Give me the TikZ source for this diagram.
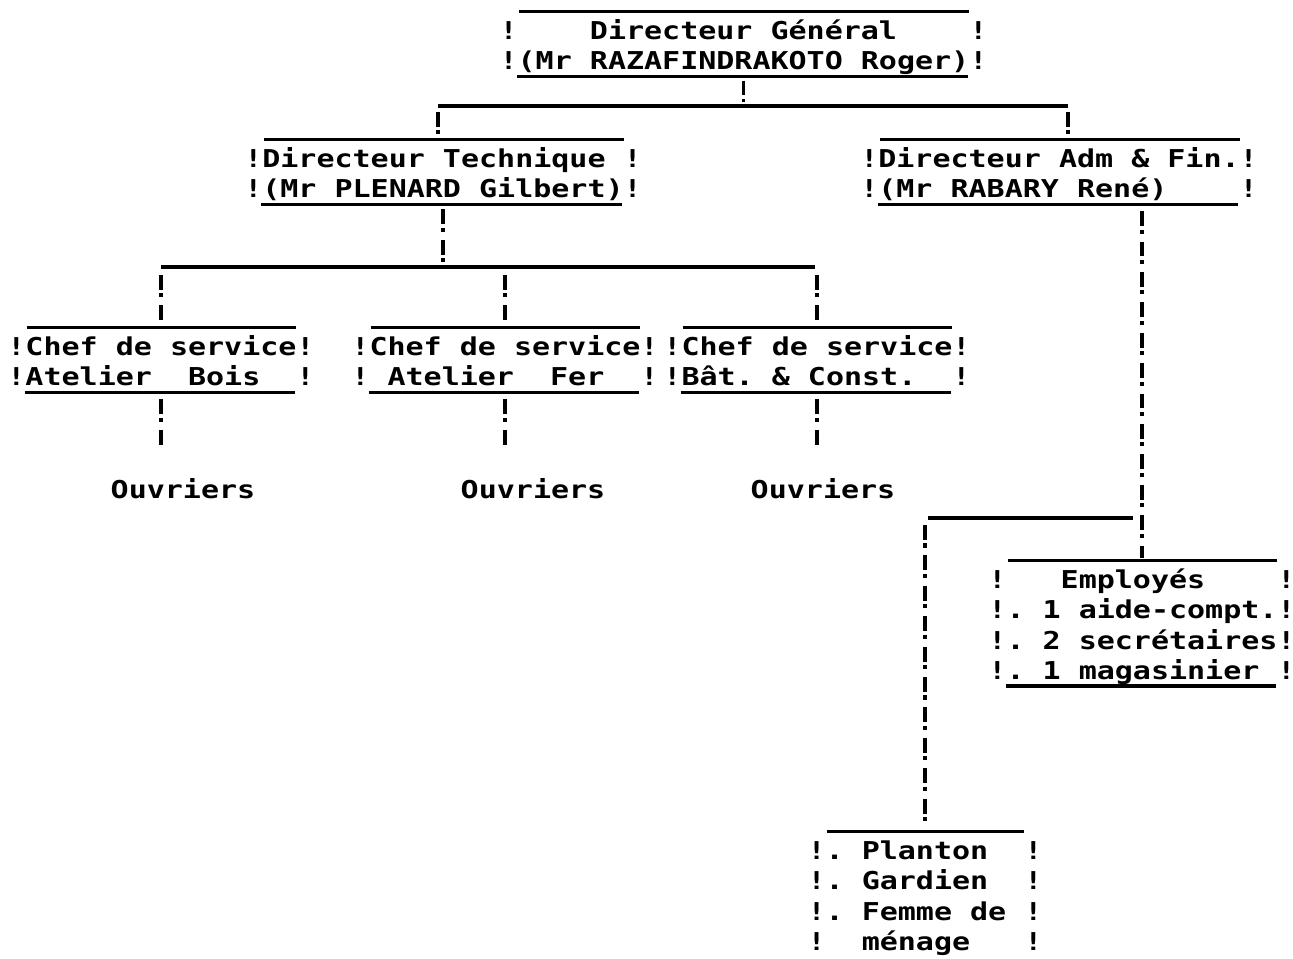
\documentclass[tikz,border=0pt]{standalone}
\usepackage{fontspec}
\usepackage{tikz}
\usetikzlibrary{positioning,calc}

\newfontfamily\typew[FakeStretch=1.22]{DejaVu Sans Mono Bold}
\newcommand{\tstr}{\rule[-3.5pt]{0pt}{15.5pt}}

\begin{document}
\begin{tikzpicture}[x=0.02cm, y=-0.02cm,
    orgbox/.style={inner sep=0pt, anchor=north, align=left,
      font=\typew\fontsize{14pt}{17.3pt}\selectfont\frenchspacing},
    worker/.style={inner sep=0pt, anchor=base,
      font=\typew\fontsize{14pt}{17.3pt}\selectfont},
    typeline/.style={black, line width=1.8pt},
    bangline/.style={black, line width=2pt,
      dash pattern=on 8.5pt off 2pt on 2.3pt off 4.5pt}
  ]
  \useasboundingbox (0,0) rectangle (1293,958);

  % Direction
  \node[orgbox] (dg) at (743.5,17.8)
    {\tstr!~~~~Directeur~Général~~~~!\\\tstr!(Mr~RAZAFINDRAKOTO~Roger)!};
  \node[orgbox] (dt) at (443,145.8)
    {\tstr!Directeur~Technique~!\\\tstr!(Mr~PLENARD~Gilbert)!};
  \node[orgbox] (daf) at (1059,145.8)
    {\tstr!Directeur~Adm~\&~Fin.!\\\tstr!(Mr~RABARY~René)~~~~!};

  % Chefs de service
  \node[orgbox] (cb) at (161,333.8)
    {\tstr!Chef~de~service!\\\tstr!Atelier~~Bois~~!};
  \node[orgbox] (cf) at (505,333.8)
    {\tstr!Chef~de~service!\\\tstr!~Atelier~~Fer~~!};
  \node[orgbox] (cc) at (817,333.8)
    {\tstr!Chef~de~service!\\\tstr!Bât.~\&~Const.~~!};

  % Ouvriers
  \node[worker] (ouv1) at (183,498) {Ouvriers};
  \node[worker] (ouv2) at (533,498) {Ouvriers};
  \node[worker] (ouv3) at (823,498) {Ouvriers};

  % Personnel administratif
  \node[orgbox] (emp) at (1142,566.8)
    {\tstr!~~~Employés~~~~!\\\tstr!.~1~aide-compt.!\\
     \tstr!.~2~secrétaires!\\\tstr!.~1~magasinier~!};
  \node[orgbox] (pl) at (925,837.8)
    {\tstr!.~Planton~~!\\\tstr!.~Gardien~~!\\
     \tstr!.~Femme~de~!\\\tstr!~~ménage~~~!};

  % Traits des cadres
  \foreach \b in {dg,dt,daf,cb,cf,cc,emp,pl}
    \draw[typeline] ([xshift=11.5pt,yshift=3.4pt]\b.north west)
      -- ([xshift=-10.5pt,yshift=3.4pt]\b.north east);
  \foreach \b in {dg,dt,daf,cb,cf,cc,emp}
    \draw[typeline] ([xshift=10pt]\b.south west) -- ([xshift=-11.3pt]\b.south east);

  % Liaisons
  \coordinate (b1l) at (438,106);
  \coordinate (b1r) at (1068,106);
  \draw[typeline] (b1l) -- (b1r);
  \draw[bangline, shorten <=2.5pt, shorten >=2pt] (dg.south) -- (dg.south |- b1l);
  \draw[bangline, shorten <=3.4pt, shorten >=5.6pt] (b1l) -- (b1l |- dt.north);
  \draw[bangline, shorten <=3.4pt, shorten >=5.6pt] (b1r) -- (b1r |- daf.north);

  \coordinate (b2l) at (161,267);
  \coordinate (b2r) at (815,267);
  \draw[typeline] (b2l) -- (b2r);
  \draw[bangline, shorten <=3pt, shorten >=2pt] (dt.south) -- (dt.south |- b2l);
  \foreach \b in {cb,cf,cc}
    \draw[bangline, shorten <=4.5pt, shorten >=6pt] (\b.north |- b2l) -- (\b.north);
  \foreach \b/\o in {cb/ouv1,cf/ouv2,cc/ouv3}
    \draw[bangline, shorten <=4pt, shorten >=17pt] (\b.south) -- (\b.south |- \o.north);

  \draw[bangline, shorten <=4pt, shorten >=5pt] (emp.north |- daf.south) -- (emp.north);
  \coordinate (b3r) at (1133,518);
  \coordinate (b3l) at (928,518);
  \draw[typeline] (b3l) -- (b3r);
  \draw[bangline, shorten <=4pt, shorten >=7pt] (pl.north |- b3l) -- (pl.north);
\end{tikzpicture}
\end{document}
